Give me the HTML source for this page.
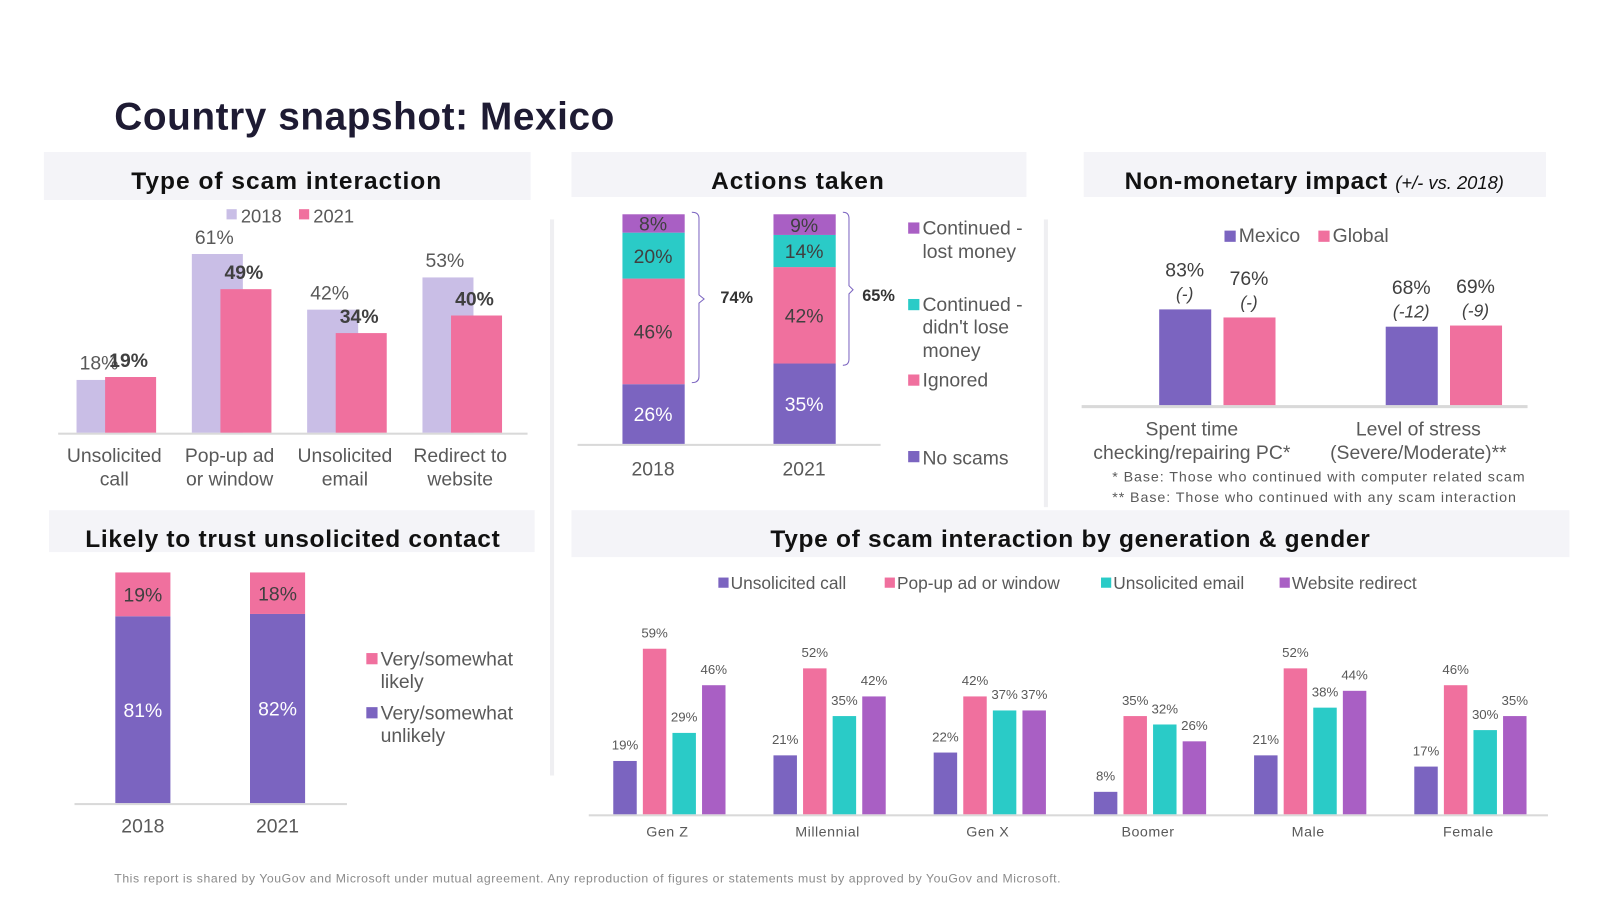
<!DOCTYPE html>
<html><head><meta charset="utf-8"><style>
html,body{margin:0;padding:0;background:#fff;}
svg{display:block;font-family:"Liberation Sans",Arial,sans-serif;}
</style></head><body>
<svg id="s" width="1600" height="900" viewBox="0 0 1568 882" xmlns="http://www.w3.org/2000/svg">
<rect width="1568" height="882" fill="#fff"/>
<text x="112" y="127" font-size="38" font-weight="bold" fill="#1e1b33" textLength="490">Country snapshot: Mexico</text>

<!-- panel headers -->
<rect x="43" y="149" width="477" height="47" fill="#f4f4f8"/>
<text x="281" y="185" font-size="24" font-weight="bold" letter-spacing="1" text-anchor="middle" fill="#111">Type of scam interaction</text>
<rect x="560" y="149" width="446" height="44" fill="#f4f4f8"/>
<text x="782" y="185" font-size="24" font-weight="bold" letter-spacing="1" text-anchor="middle" fill="#111">Actions taken</text>
<rect x="1062" y="149" width="453" height="44" fill="#f4f4f8"/>
<text x="1288" y="185" text-anchor="middle" fill="#111"><tspan font-size="24" font-weight="bold" letter-spacing="0.6">Non-monetary impact </tspan><tspan font-size="18" font-style="italic">(+/- vs. 2018)</tspan></text>
<rect x="48" y="500" width="476" height="41" fill="#f4f4f8"/>
<text x="287" y="536" font-size="24" font-weight="bold" letter-spacing="0.7" text-anchor="middle" fill="#111">Likely to trust unsolicited contact</text>
<rect x="560" y="500" width="978" height="46" fill="#f4f4f8"/>
<text x="1049" y="536" font-size="24" font-weight="bold" letter-spacing="0.7" text-anchor="middle" fill="#111">Type of scam interaction by generation &amp; gender</text>

<rect x="539" y="215" width="4" height="545" fill="#efeff2"/>
<rect x="1023" y="215" width="4" height="282" fill="#efeff2"/>

<!-- legends -->
<g font-size="18" fill="#595959">
<rect x="222" y="205" width="10" height="10" fill="#c9bee6"/><text x="236" y="218">2018</text>
<rect x="293" y="205" width="10" height="10" fill="#f0709e"/><text x="307" y="218">2021</text>
</g>
<g font-size="19" fill="#595959">
<rect x="890" y="218" width="11" height="11" fill="#a95fc4"/><text x="904" y="230">Continued -</text><text x="904" y="253">lost money</text>
<rect x="890" y="293" width="11" height="11" fill="#2acbc7"/><text x="904" y="305">Continued -</text><text x="904" y="327">didn't lose</text><text x="904" y="350">money</text>
<rect x="890" y="367" width="11" height="11" fill="#f0709e"/><text x="904" y="379">Ignored</text>
<rect x="890" y="442" width="11" height="11" fill="#7b64c0"/><text x="904" y="455">No scams</text>
</g>
<g font-size="19" fill="#595959">
<rect x="1200" y="226" width="11" height="11" fill="#7b64c0"/><text x="1214" y="237">Mexico</text>
<rect x="1292" y="226" width="11" height="11" fill="#f0709e"/><text x="1306" y="237">Global</text>
</g>
<g font-size="19" fill="#595959">
<rect x="359" y="640" width="11" height="11" fill="#f0709e"/><text x="373" y="652">Very/somewhat</text><text x="373" y="674">likely</text>
<rect x="359" y="693" width="11" height="11" fill="#7b64c0"/><text x="373" y="705">Very/somewhat</text><text x="373" y="727">unlikely</text>
</g>
<g font-size="17" fill="#595959">
<rect x="704" y="566" width="10" height="10" fill="#7b64c0"/><text x="716" y="577">Unsolicited call</text>
<rect x="867" y="566" width="10" height="10" fill="#f0709e"/><text x="879" y="577">Pop-up ad or window</text>
<rect x="1079" y="566" width="10" height="10" fill="#2acbc7"/><text x="1091" y="577">Unsolicited email</text>
<rect x="1254" y="566" width="10" height="10" fill="#a95fc4"/><text x="1266" y="577">Website redirect</text>
</g>

<!-- axes -->
<rect x="57" y="424" width="460" height="2" fill="#d9d9d9"/>
<rect x="566" y="435" width="297" height="2" fill="#d9d9d9"/>
<rect x="1060" y="397" width="437" height="3" fill="#d9d9d9"/>
<rect x="73" y="787" width="267" height="2" fill="#d9d9d9"/>
<rect x="577" y="798" width="940" height="2" fill="#d9d9d9"/>

<!-- brackets -->
<path d="M678 208 Q685 208 685 214 L685 289 L690 293 L685 297 L685 369 Q685 375 678 375" fill="none" stroke="#7b64c0" stroke-width="1"/>
<text x="706" y="297" font-size="16" font-weight="bold" fill="#333">74%</text>
<path d="M826 208 Q832 208 832 214 L832 280 L836 284 L832 288 L832 352 Q832 358 826 358" fill="none" stroke="#7b64c0" stroke-width="1"/>
<text x="845" y="295" font-size="16" font-weight="bold" fill="#333">65%</text>

<g font-size="14" fill="#595959" letter-spacing="0.9">
<text x="1090" y="472">* Base: Those who continued with computer related scam</text>
<text x="1090" y="492">** Base: Those who continued with any scam interaction</text>
</g>
<text x="112" y="865" font-size="12" fill="#8a8a8a" letter-spacing="0.55">This report is shared by YouGov and Microsoft under mutual agreement. Any reproduction of figures or statements must by approved by YouGov and Microsoft.</text>
<g id="marks"></g>
</svg>
<script>
// Chart 1: type of scam interaction
const scamCats = [["Unsolicited","call"],["Pop-up ad","or window"],["Unsolicited","email"],["Redirect to","website"]];
const scam2018 = [18,61,42,53];
const scam2021 = [19,49,34,40];
// Chart 2: actions taken
const actYears = ["2018","2021"];
const actNoScams = [26,35];
const actIgnored = [46,42];
const actNoLoss = [20,14];
const actLost = [8,9];
// Chart 3: non-monetary impact
const impCats = [["Spent time","checking/repairing PC*"],["Level of stress","(Severe/Moderate)**"]];
const impMexico = [83,68];
const impGlobal = [76,69];
const impMexicoDelta = ["(-)","(-12)"];
const impGlobalDelta = ["(-)","(-9)"];
// Chart 4: trust
const trustYears = ["2018","2021"];
const trustUnlikely = [81,82];
const trustLikely = [19,18];
// Chart 5: generation & gender
const genCats = ["Gen Z","Millennial","Gen X","Boomer","Male","Female"];
const genCall = [19,21,22,8,21,17];
const genPopup = [59,52,42,35,52,46];
const genEmail = [29,35,37,32,38,30];
const genRedirect = [46,42,37,26,44,35];

const NS="http://www.w3.org/2000/svg";
const g=document.getElementById('marks');
function el(t,a,txt){const e=document.createElementNS(NS,t);for(const k in a)e.setAttribute(k,a[k]);if(txt!==undefined)e.textContent=txt;g.appendChild(e);return e;}
const C={purple:"#7b64c0",pink:"#f0709e",teal:"#2acbc7",violet:"#a95fc4",lav:"#c9bee6",txt:"#595959"};

// chart 1
{const base=424,k=2.87,cx=i=>112+i*113;
scamCats.forEach((c,i)=>{
 let h=scam2018[i]*k;
 let r=el('rect',{x:cx(i)-37,y:base-h,width:50,height:h,fill:C.lav});
 
 
 let t=el('text',{x:cx(i)-15,y:base-h-10,'font-size':19,'text-anchor':'middle',fill:C.txt},scam2018[i]+'%');
 
 
 h=scam2021[i]*k;
 r=el('rect',{x:cx(i)-9,y:base-h,width:50,height:h,fill:C.pink});
 
 
 t=el('text',{x:cx(i)+14,y:base-h-10,'font-size':19,'font-weight':'bold','text-anchor':'middle',fill:'#404040'},scam2021[i]+'%');
 
 
 c.forEach((ln,j)=>{const a=el('text',{x:cx(i),y:453+j*23,'font-size':19,'text-anchor':'middle',fill:C.txt},ln);
 
 });
});}

// chart 2 actions
{const base=435,k=2.25,cx=i=>640+i*148;
actYears.forEach((y,i)=>{
 let cur=base;
 [[actNoScams,C.purple,'#fff'],[actIgnored,C.pink,'#404040'],[actNoLoss,C.teal,'#404040'],[actLost,C.violet,'#404040']].forEach(([arr,col,tc],s)=>{
  const h=arr[i]*k;cur-=h;
  const r=el('rect',{x:cx(i)-30,y:cur,width:61,height:h,fill:col});
  
  
  const t=el('text',{x:cx(i),y:cur+h/2+7,'font-size':19,'text-anchor':'middle',fill:tc},arr[i]+'%');
  
  
 });
 const a=el('text',{x:cx(i),y:466,'font-size':19,'text-anchor':'middle',fill:C.txt},y);
 
 
});}

// chart 3 impact
{const base=397,k=1.13;
impCats.forEach((c,i)=>{
 const gx=1136+i*222;
 [[impMexico,impMexicoDelta,C.purple,0],[impGlobal,impGlobalDelta,C.pink,63]].forEach(([arr,d,col,off])=>{
  const h=arr[i]*k,x=gx+off;
  const r=el('rect',{x:x,y:base-h,width:51,height:h,fill:col});
  
  
  const t=el('text',{x:x+25,y:base-h-32,'font-size':19,'text-anchor':'middle',fill:'#404040'},arr[i]+'%');
  
  
  const t2=el('text',{x:x+25,y:base-h-9,'font-size':17,'font-style':'italic','text-anchor':'middle',fill:'#404040'},d[i]);
  
  
 });
 c.forEach((ln,j)=>{const a=el('text',{x:gx+32,y:427+j*23,'font-size':19,'text-anchor':'middle',fill:C.txt},ln);
 
 });
});}

// chart 4 trust
{const base=787,k=2.26,cx=i=>140+i*132;
trustYears.forEach((y,i)=>{
 let h=trustUnlikely[i]*k;
 let r=el('rect',{x:cx(i)-27,y:base-h,width:54,height:h,fill:C.purple});
 
 
 let t=el('text',{x:cx(i),y:base-h/2+7,'font-size':19,'text-anchor':'middle',fill:'#fff'},trustUnlikely[i]+'%');
 
 
 const top=base-h;h=trustLikely[i]*k;
 r=el('rect',{x:cx(i)-27,y:top-h,width:54,height:h,fill:C.pink});
 
 
 t=el('text',{x:cx(i),y:top-h/2+7,'font-size':19,'text-anchor':'middle',fill:'#404040'},trustLikely[i]+'%');
 
 
 const a=el('text',{x:cx(i),y:816,'font-size':19,'text-anchor':'middle',fill:C.txt},y);
 
 
});}

// chart 5 generation
{const base=798,k=2.75;
genCats.forEach((c,i)=>{
 const gx=601+i*157;
 [[genCall,C.purple],[genPopup,C.pink],[genEmail,C.teal],[genRedirect,C.violet]].forEach(([arr,col],s)=>{
  const h=arr[i]*k,x=gx+s*29;
  const r=el('rect',{x:x,y:base-h,width:23,height:h,fill:col});
  
  
  const t=el('text',{x:x+11.5,y:base-h-11,'font-size':13,'text-anchor':'middle',fill:C.txt},arr[i]+'%');
  
  
 });
 const a=el('text',{x:gx+53,y:820,'font-size':14,'letter-spacing':'0.5','text-anchor':'middle',fill:C.txt},c);
 
 
});}
</script>
</body></html>
